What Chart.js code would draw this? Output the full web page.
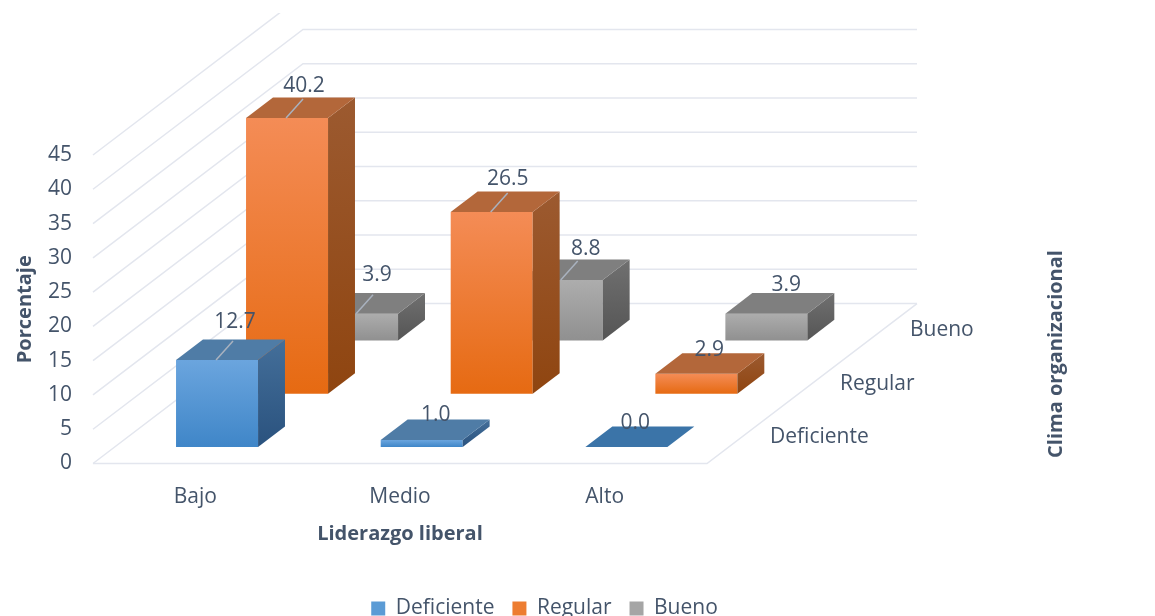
<!DOCTYPE html>
<html>
<head>
<meta charset="utf-8">
<script src="https://cdn.jsdelivr.net/npm/chart.js@4"></script>
<style>
  html, body { margin: 0; padding: 0; background: #fff; overflow: hidden; }
  #wrap { width: 1155px; height: 616px; }
  canvas { filter: blur(0.6px); }
</style>
</head>
<body>
<div id="wrap"><canvas id="chart" width="1155" height="616"></canvas></div>
<script>
const categories = ["Bajo", "Medio", "Alto"]
const seriesNames = ["Deficiente", "Regular", "Bueno"]
const deficiente = [12.7, 1.0, 0.0]
const regular = [40.2, 26.5, 2.9]
const bueno = [3.9, 8.8, 3.9]
const yTicksMax = 45

const textColor = "#44546A"
const gridColor = "#e3e6ee"
const fontName = "'Open Sans', sans-serif"

// depth of the floor per series, in pixels
const depthX = 70
const depthY = 53.3
const barStart = 0.31
const barDepth = 0.385

// fixed plot box of the front plane
const plotLeft = 93
const plotRight = 707
const plotTop = 155
const plotBottom = 463.5

const faces = [
  { legend: "#5b9bd5", frontA: "#6ba5de", frontB: "#3f86c8", top: "#4f7ca6", flat: "#3b74a8", sideA: "#446f9a", sideB: "#2a527e" },
  { legend: "#ed7d31", frontA: "#f48c56", frontB: "#e66a12", top: "#b3673a", flat: "#b3673a", sideA: "#9c5a30", sideB: "#8f4510" },
  { legend: "#a5a5a5", frontA: "#adadad", frontB: "#909090", top: "#7f7f7f", flat: "#7f7f7f", sideA: "#707070", sideB: "#555555" }
]

// label nudges from the front top centre of each bar, by series and category
const labelNudges = [
  [[18, -38], [14, -25], [9, -24]],
  [[17, -32], [16, -33], [13, -24]],
  [[20, -39], [24, -31], [20, -29]]
]
const leaders = [
  [true, false, false],
  [true, true, false],
  [true, true, false]
]

function poly(ctx, pts, fill) {
  ctx.beginPath()
  pts.forEach((p, i) => i ? ctx.lineTo(p[0], p[1]) : ctx.moveTo(p[0], p[1]))
  ctx.closePath()
  ctx.fillStyle = fill
  ctx.fill()
}

function gradient(ctx, y0, y1, a, b) {
  const g = ctx.createLinearGradient(0, y0, 0, y1)
  g.addColorStop(0, a)
  g.addColorStop(1, b)
  return g
}

const chart3d = {
  id: "chart3d",
  afterLayout(chart) {
    // legend sits right of the plot centre and low in the window
    const lg = chart.legend
    lg.left += 191
    lg.right += 191
    lg.top += 13
    lg.bottom += 13
  },
  beforeDatasetsDraw(chart) {
    const { ctx, chartArea: a, scales: { y } } = chart
    const backX = a.right + depthX * 3
    const leftBackX = a.left + depthX * 3
    const backDy = depthY * 3
    ctx.save()
    ctx.beginPath()
    ctx.rect(0, 13, chart.width, chart.height)
    ctx.clip()
    ctx.strokeStyle = gridColor
    ctx.lineWidth = 1.5
    y.ticks.forEach(t => {
      const py = y.getPixelForValue(t.value)
      ctx.beginPath()
      ctx.moveTo(a.left, py)
      ctx.lineTo(leftBackX, py - backDy)
      ctx.lineTo(backX, py - backDy)
      ctx.stroke()
    })
    // floor
    ctx.beginPath()
    ctx.moveTo(a.left, a.bottom)
    ctx.lineTo(a.right, a.bottom)
    ctx.lineTo(backX, a.bottom - backDy)
    ctx.stroke()
    ctx.restore()
  },
  beforeDatasetDraw(chart, args) {
    const { ctx } = chart
    const i = args.index
    const f = faces[i]
    const dx0 = (i + barStart) * depthX
    const dy0 = (i + barStart) * depthY
    const ox = barDepth * depthX
    const oy = barDepth * depthY
    args.meta.data.forEach(el => {
      const l = el.x - el.width / 2 + dx0
      const r = el.x + el.width / 2 + dx0
      const t = el.y - dy0
      const b = el.base - dy0
      if (b - t > 0.5) {
        poly(ctx, [[l, t], [r, t], [r, b], [l, b]], gradient(ctx, t, b, f.frontA, f.frontB))
        poly(ctx, [[r, t], [r + ox, t - oy], [r + ox, b - oy], [r, b]], gradient(ctx, t - oy, b, f.sideA, f.sideB))
        poly(ctx, [[l, t], [l + ox, t - oy], [r + ox, t - oy], [r, t]], f.top)
      } else {
        poly(ctx, [[l, t], [l + ox, t - oy], [r + ox, t - oy], [r, t]], f.flat)
      }
    })
    return false
  },
  afterDatasetsDraw(chart) {
    const { ctx, chartArea: a } = chart
    ctx.save()
    ctx.font = "21px " + fontName
    ctx.textAlign = "center"
    ctx.textBaseline = "middle"
    chart.data.datasets.forEach((ds, i) => {
      const meta = chart.getDatasetMeta(i)
      meta.data.forEach((el, j) => {
        const cx = el.x + (i + barStart) * depthX
        const top = el.y - (i + barStart) * depthY
        if (leaders[i][j]) {
          ctx.strokeStyle = "#a9b2bf"
          ctx.lineWidth = 1.5
          ctx.beginPath()
          ctx.moveTo(cx - 1, top)
          ctx.lineTo(cx + 16, top - 19)
          ctx.stroke()
        }
        const n = labelNudges[i][j]
        ctx.fillStyle = textColor
        ctx.fillText(ds.data[j].toFixed(1), cx + n[0], top + n[1])
      })
    })
    // series names along the right floor edge
    ctx.textAlign = "left"
    seriesNames.forEach((name, i) => {
      ctx.fillText(name, a.right + (i + 0.5) * depthX + 28, a.bottom - (i + 0.5) * depthY)
    })
    // depth axis title
    ctx.font = "bold 20px " + fontName
    ctx.textAlign = "center"
    ctx.translate(1056, 354)
    ctx.rotate(-Math.PI / 2)
    ctx.fillText("Clima organizacional", 0, 0)
    ctx.restore()
  }
}

new Chart(document.getElementById("chart"), {
  type: "bar",
  data: {
    labels: categories,
    datasets: [deficiente, regular, bueno].map((d, i) => ({
      label: seriesNames[i],
      data: d,
      grouped: false,
      barThickness: 82,
      backgroundColor: faces[i].legend,
      borderWidth: 0
    }))
  },
  plugins: [chart3d],
  options: {
    responsive: false,
    animation: false,
    layout: { padding: { left: 0, right: 1155 - plotRight, top: plotTop, bottom: 0 } },
    scales: {
      x: {
        grid: { display: false },
        border: { display: false },
        ticks: { color: textColor, font: { family: fontName, size: 21 }, padding: 13, maxRotation: 0 },
        title: { display: true, text: "Liderazgo liberal", color: textColor, font: { family: fontName, size: 20, weight: "bold" }, padding: { top: 0, bottom: 21 } },
        afterFit(scale) {
          const lg = scale.chart.legend
          scale.height = 616 - plotBottom - (lg ? lg.height : 60)
        }
      },
      y: {
        min: 0,
        max: yTicksMax,
        grid: { display: false, drawTicks: false },
        border: { display: false },
        ticks: { stepSize: 5, color: textColor, font: { family: fontName, size: 21 }, padding: 21 },
        title: { display: true, text: "Porcentaje", color: textColor, font: { family: fontName, size: 20, weight: "bold" }, padding: { top: 13, bottom: 0 } },
        afterFit(scale) {
          scale.width = plotLeft
        }
      }
    },
    plugins: {
      legend: {
        position: "bottom",
        labels: { color: textColor, font: { family: fontName, size: 21 }, boxWidth: 14, boxHeight: 14, padding: 18 }
      },
      tooltip: { enabled: false }
    }
  }
})
</script>
</body>
</html>
